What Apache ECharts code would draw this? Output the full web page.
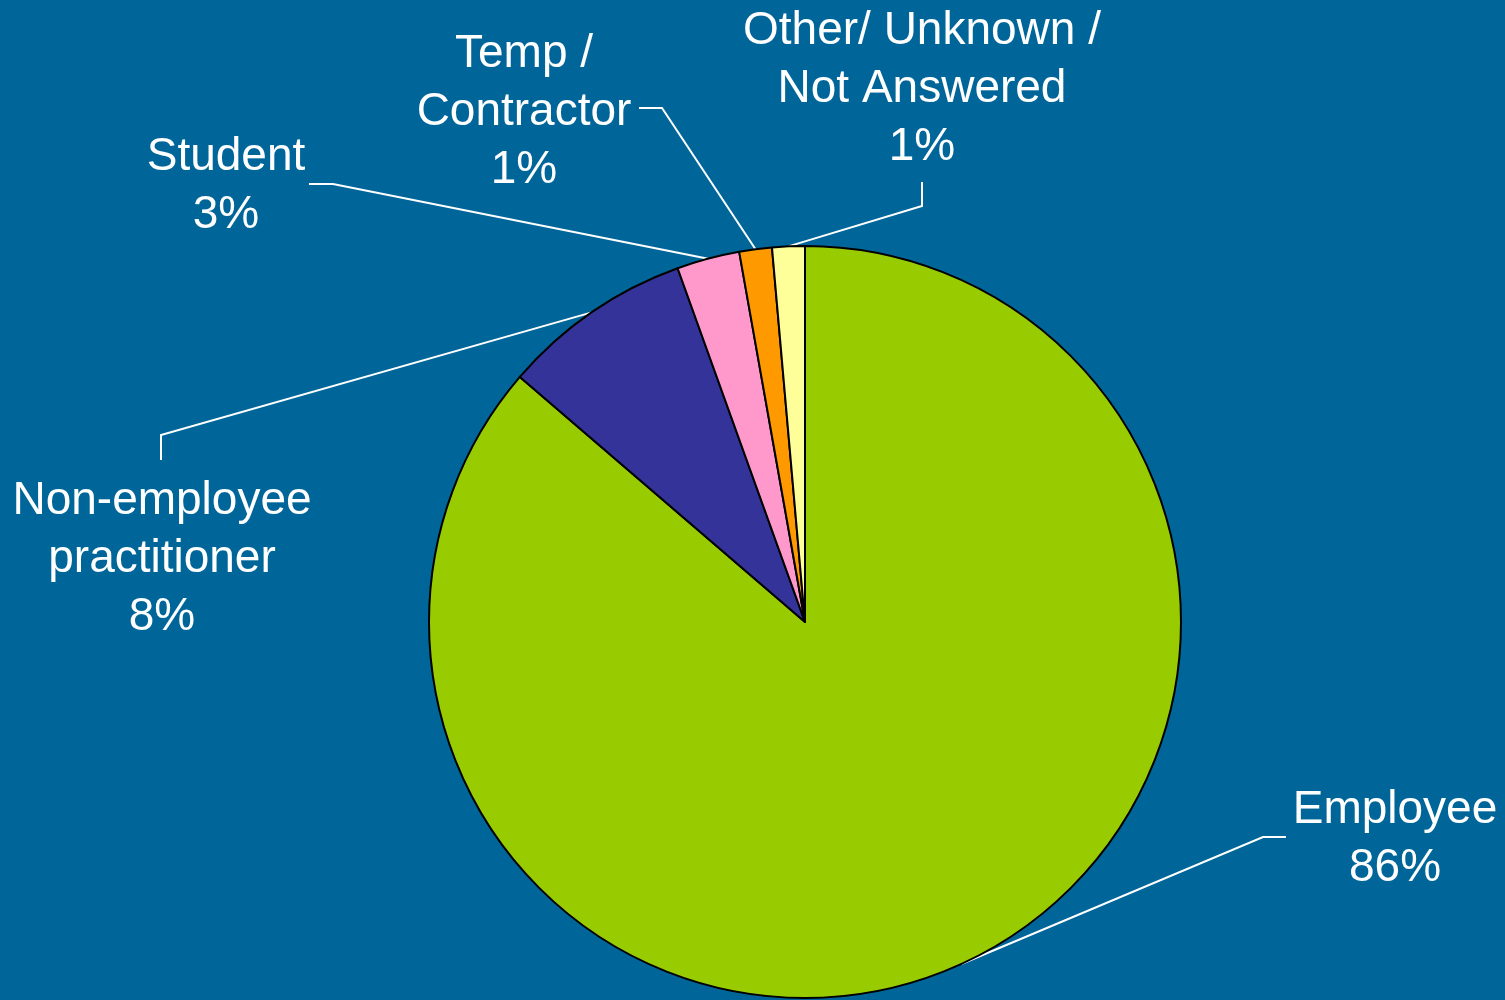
<!DOCTYPE html>
<html>
<head>
<meta charset="utf-8">
<script src="https://cdn.jsdelivr.net/npm/echarts@6/dist/echarts.min.js"></script>
<style>
html,body{margin:0;padding:0;background:#006699;}
#chart{width:1505px;height:1000px;}
</style>
</head>
<body>
<div id="chart"></div>
<script>
// Data
const categories = ['Employee', 'Non-employee\npractitioner', 'Student', 'Temp /\nContractor', 'Other/ Unknown /\nNot Answered'];
const values = [86.3, 8.2, 2.7, 1.4, 1.4];
const colors = ['#99CC00', '#333399', '#FF99CC', '#FF9900', '#FFFF99'];

// Label placement (layout only)
const labelPlacement = [
  {x: 1395, y: 839, elbow: [1263, 837], end: [1286, 837]},
  {x: 162, y: 559, elbow: [161, 435], end: [161, 460]},
  {x: 226, y: 186, elbow: [333, 184], end: [309, 184]},
  {x: 524, y: 112, elbow: [662, 108], end: [639, 108]},
  {x: 922, y: 89, elbow: [922, 206], end: [922, 182]}
];

const CX = 805, CY = 622, R = 376;

function startPoint(i) {
  const total = values.reduce((a, b) => a + b, 0);
  let cum = 0;
  for (let k = 0; k < i; k++) cum += values[k];
  const mid = (cum + values[i] / 2) / total * Math.PI * 2;
  return [CX + R * Math.sin(mid), CY - R * Math.cos(mid)];
}

const chart = echarts.init(document.getElementById('chart'), null, {renderer: 'canvas'});
chart.setOption({
  backgroundColor: '#006699',
  animation: false,
  series: [{
    type: 'pie',
    center: [CX, CY],
    radius: R,
    startAngle: 90,
    clockwise: true,
    percentPrecision: 1,
    avoidLabelOverlap: false,
    data: categories.map((c, i) => ({
      name: c,
      value: values[i],
      itemStyle: {color: colors[i]}
    })),
    itemStyle: {borderColor: '#000000', borderWidth: 2},
    emphasis: {disabled: true},
    label: {
      show: true,
      position: 'outside',
      color: '#ffffff',
      fontFamily: '"Liberation Sans", Arial, sans-serif',
      fontSize: 46,
      lineHeight: 58,
      align: 'center',
      formatter: p => p.name + '\n' + Math.round(p.percent) + '%'
    },
    labelLine: {
      show: true,
      lineStyle: {color: '#ffffff', width: 2}
    },
    labelLayout: function (params) {
      const i = params.dataIndex;
      const L = labelPlacement[i];
      const p0 = startPoint(i);
      return {
        x: L.x,
        y: L.y,
        align: 'center',
        verticalAlign: 'middle',
        labelLinePoints: [p0, L.elbow, L.end]
      };
    }
  }]
});
</script>
</body>
</html>
